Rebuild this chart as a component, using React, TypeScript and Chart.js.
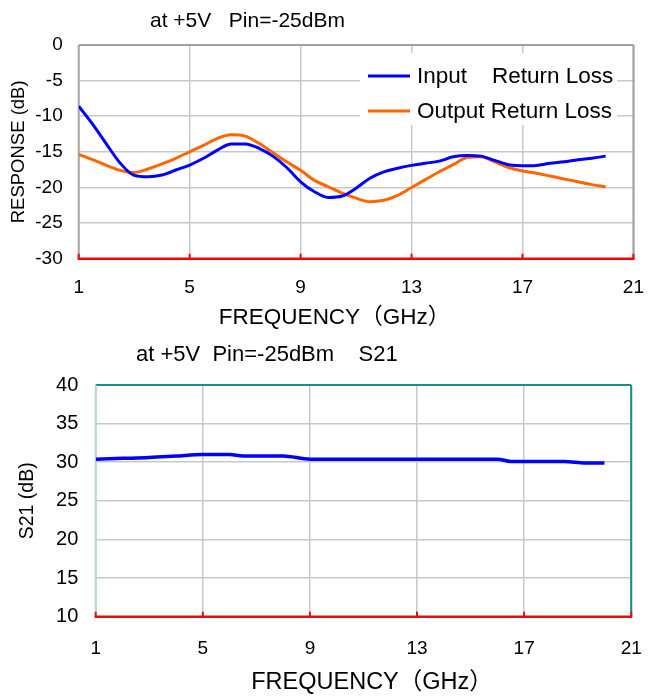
import React, { useEffect, useRef } from "react";
import { Chart, registerables } from "chart.js";

Chart.register(...registerables);

const FONT = "'Liberation Sans', Arial, Helvetica, 'Noto Sans CJK SC', sans-serif";

// ---------- data: return loss (top chart) ----------
const freqRL = [
  1, 1.5, 2, 2.5, 3, 3.5, 4, 4.5, 5, 5.5, 6, 6.5, 7, 7.5, 8, 8.5, 9, 9.5, 10, 10.5,
  11, 11.5, 12, 12.5, 13, 13.5, 14, 14.5, 15, 15.5, 16, 16.5, 17, 17.5, 18, 18.5, 19, 19.5, 20,
];
const inputRL = [
  -8.6, -11.1, -13.9, -16.6, -18.3, -18.5, -18.25, -17.55, -16.85, -15.9, -14.75, -13.9, -13.9, -14.5, -15.6, -17.2, -19.2, -20.6, -21.4, -21.2,
  -20.1, -18.7, -17.8, -17.3, -16.9, -16.6, -16.3, -15.7, -15.5, -15.6, -16.2, -16.8, -16.95, -16.9, -16.6, -16.4, -16.1, -15.9, -15.6,
];
const outputRL = [
  -15.35, -16.1, -16.9, -17.6, -17.9, -17.4, -16.7, -15.9, -15.0, -14.1, -13.1, -12.6, -12.8, -13.8, -15.1, -16.4, -17.6, -19.0, -19.9, -20.8,
  -21.5, -22.0, -21.8, -21.1, -20.0, -18.9, -17.8, -16.8, -15.8, -15.7, -16.4, -17.2, -17.7, -18.0, -18.4, -18.8, -19.2, -19.6, -19.9,
];
const rlLabels = ["Input    Return Loss", "Output Return Loss"];
const rlColors = ["#0000ff", "#ff6600"];

// ---------- data: S21 (bottom chart) ----------
const freqS21 = [1, 2, 3, 4, 5, 6, 6.5, 7, 8, 9, 10, 11, 12, 13, 14, 15, 16, 16.5, 17, 18, 18.5, 19.3, 20];
const s21 = [30.4, 30.5, 30.6, 30.8, 31.0, 31.0, 30.8, 30.8, 30.8, 30.4, 30.4, 30.4, 30.4, 30.4, 30.4, 30.4, 30.4, 30.1, 30.1, 30.1, 30.1, 29.9, 29.9];

// ---------- axis settings ----------
const xMin = 1;
const xMax = 21;
const xStep = 4;
const rlYMin = -30;
const rlYMax = 0;
const s21YMin = 10;
const s21YMax = 40;
const yStep = 5;

const titleTop = "at +5V   Pin=-25dBm";
const titleBottom = "at +5V  Pin=-25dBm    S21";
const xTitle = "FREQUENCY（GHz）";
const yTitleTop = "RESPONSE (dB)";
const yTitleBottom = "S21 (dB)";

type TextItem = { text: string; x: number; y: number; size: number; align: CanvasTextAlign };
type LegendCfg = {
  box: [number, number, number, number];
  rows: number[];
  lineX: [number, number];
  textX: number;
  size: number;
};
type DecorCfg = {
  top: string;
  right: string;
  left: string;
  bottom: string;
  texts: TextItem[];
  legend?: LegendCfg;
};

function makeDecor(cfg: DecorCfg) {
  return {
    id: "decor",
    beforeDatasetsDraw(chart: any) {
      const { ctx } = chart;
      const { left, right, top, bottom } = chart.chartArea;
      const seg = (x1: number, y1: number, x2: number, y2: number, c: string, w: number) => {
        ctx.beginPath();
        ctx.strokeStyle = c;
        ctx.lineWidth = w;
        ctx.moveTo(x1, y1);
        ctx.lineTo(x2, y2);
        ctx.stroke();
      };
      ctx.save();
      seg(left, top, right, top, cfg.top, 2);
      seg(right, top, right, bottom, cfg.right, 2);
      seg(left, top, left, bottom, cfg.left, 2);
      seg(left - 1, bottom, right + 1, bottom, cfg.bottom, 2.5);
      const xs = chart.scales.x;
      xs.ticks.forEach((t: any) => {
        const px = xs.getPixelForValue(t.value);
        seg(px, bottom, px, bottom - 5, cfg.bottom, 2);
      });
      ctx.restore();
    },
    afterDatasetsDraw(chart: any) {
      const lg = cfg.legend;
      if (!lg) return;
      const { ctx } = chart;
      ctx.save();
      ctx.fillStyle = "#ffffff";
      ctx.fillRect(lg.box[0], lg.box[1], lg.box[2], lg.box[3]);
      chart.data.datasets.forEach((ds: any, i: number) => {
        const y = lg.rows[i];
        ctx.beginPath();
        ctx.strokeStyle = ds.borderColor;
        ctx.lineWidth = 3;
        ctx.moveTo(lg.lineX[0], y);
        ctx.lineTo(lg.lineX[1], y);
        ctx.stroke();
        ctx.fillStyle = "#000";
        ctx.font = `${lg.size}px ${FONT}`;
        ctx.textAlign = "left";
        ctx.textBaseline = "middle";
        ctx.fillText(ds.label, lg.textX, y + 1);
      });
      ctx.restore();
    },
    afterDraw(chart: any) {
      const { ctx } = chart;
      ctx.save();
      ctx.fillStyle = "#000";
      ctx.textBaseline = "middle";
      cfg.texts.forEach((t) => {
        ctx.font = `${t.size}px ${FONT}`;
        ctx.textAlign = t.align;
        ctx.fillText(t.text, t.x, t.y);
      });
      ctx.restore();
    },
  };
}

const GRID = "#c8c8c8";

function baseOptions(o: {
  padTop: number;
  padRight: number;
  yWidth: number;
  xHeight: number;
  yMin: number;
  yMax: number;
  yTickSize: number;
  yTickPad: number;
  yTitle: string;
  yTitleSize: number;
  yTitlePad: number;
  xTickPad: number;
}): any {
  return {
    responsive: false,
    animation: false,
    layout: { padding: { top: o.padTop, right: o.padRight, left: 0, bottom: 0 } },
    plugins: { legend: { display: false }, title: { display: false }, tooltip: { enabled: false } },
    elements: { point: { radius: 0 } },
    scales: {
      x: {
        type: "linear",
        min: xMin,
        max: xMax,
        ticks: { stepSize: xStep, padding: o.xTickPad, color: "#000", font: { size: 19, family: FONT }, maxRotation: 0, autoSkip: false },
        grid: { color: GRID, lineWidth: 1.5, drawTicks: false },
        border: { display: false },
        afterFit: (s: any) => {
          s.height = o.xHeight;
        },
      },
      y: {
        type: "linear",
        min: o.yMin,
        max: o.yMax,
        ticks: { stepSize: yStep, padding: o.yTickPad, color: "#000", font: { size: o.yTickSize, family: FONT } },
        grid: { color: GRID, lineWidth: 1.5, drawTicks: false },
        border: { display: false },
        title: {
          display: true,
          text: o.yTitle,
          color: "#000",
          font: { size: o.yTitleSize, family: FONT },
          padding: { top: o.yTitlePad, bottom: 0 },
        },
        afterFit: (s: any) => {
          s.width = o.yWidth;
        },
      },
    },
  };
}

export default function App() {
  const topRef = useRef<HTMLCanvasElement>(null);
  const botRef = useRef<HTMLCanvasElement>(null);

  useEffect(() => {
    document.body.style.margin = "0";
    const top = new Chart(topRef.current as HTMLCanvasElement, {
      type: "line",
      data: {
        datasets: [
          {
            label: rlLabels[0],
            data: freqRL.map((f, i) => ({ x: f, y: inputRL[i] })),
            borderColor: rlColors[0],
            borderWidth: 3,
            cubicInterpolationMode: "monotone",
            fill: false,
          },
          {
            label: rlLabels[1],
            data: freqRL.map((f, i) => ({ x: f, y: outputRL[i] })),
            borderColor: rlColors[1],
            borderWidth: 3,
            cubicInterpolationMode: "monotone",
            fill: false,
          },
        ],
      },
      options: baseOptions({
        padTop: 45,
        padRight: 20.3,
        yWidth: 78.7,
        xHeight: 81.3,
        yMin: rlYMin,
        yMax: rlYMax,
        yTickSize: 19,
        yTickPad: 16,
        yTitle: yTitleTop,
        yTitleSize: 18.5,
        yTitlePad: 8,
        xTickPad: 18,
      }),
      plugins: [
        makeDecor({
          top: "#a0a0a0",
          right: "#a0a0a0",
          left: "#a8a8a8",
          bottom: "#ff0000",
          texts: [
            { text: titleTop, x: 150, y: 21, size: 21, align: "left" },
            { text: xTitle, x: 334.5, y: 317.5, size: 22.5, align: "center" },
          ],
          legend: { box: [360, 53, 257, 72], rows: [76, 111], lineX: [368, 410], textX: 417, size: 22.5 },
        }) as any,
      ],
    } as any);

    const bot = new Chart(botRef.current as HTMLCanvasElement, {
      type: "line",
      data: {
        datasets: [
          {
            label: "S21",
            data: freqS21.map((f, i) => ({ x: f, y: s21[i] })),
            borderColor: "#0000ff",
            borderWidth: 3.5,
            cubicInterpolationMode: "monotone",
            fill: false,
          },
        ],
      },
      options: baseOptions({
        padTop: 45,
        padRight: 11,
        yWidth: 95.7,
        xHeight: 80.3,
        yMin: s21YMin,
        yMax: s21YMax,
        yTickSize: 20,
        yTickPad: 17.4,
        yTitle: yTitleBottom,
        yTitleSize: 19.5,
        yTitlePad: 16.3,
        xTickPad: 20.2,
      }),
      plugins: [
        makeDecor({
          top: "#1a8c8c",
          right: "#1a8c8c",
          left: "#b4d7d7",
          bottom: "#e01010",
          texts: [
            { text: titleBottom, x: 136, y: 15, size: 22, align: "left" },
            { text: xTitle, x: 372, y: 342.5, size: 23.5, align: "center" },
          ],
        }) as any,
      ],
    } as any);

    return () => {
      top.destroy();
      bot.destroy();
    };
  }, []);

  return (
    <div style={{ position: "fixed", left: 0, top: 0, width: 662, height: 697, background: "#fff" }}>
      <canvas ref={topRef} width={662} height={340} style={{ position: "absolute", left: 0, top: 0, width: 662, height: 340 }} />
      <canvas ref={botRef} width={662} height={357} style={{ position: "absolute", left: 0, top: 340, width: 662, height: 357 }} />
    </div>
  );
}
